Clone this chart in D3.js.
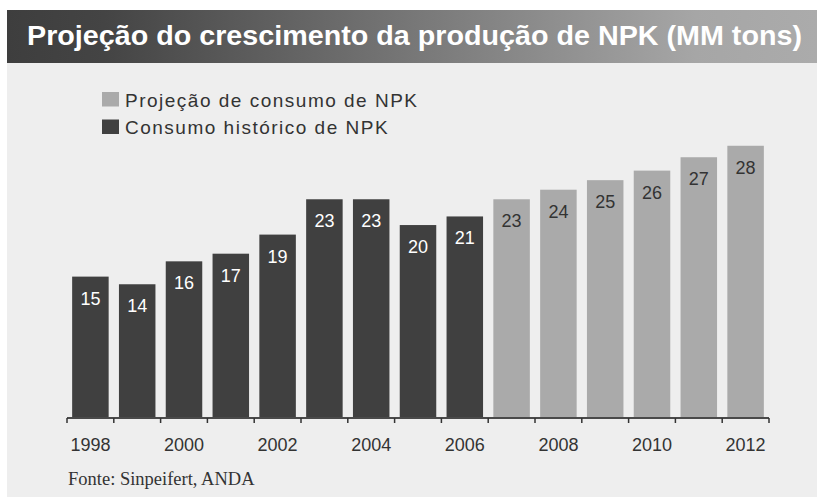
<html>
<head>
<meta charset="utf-8">
<script src="https://d3js.org/d3.v7.min.js"></script>
<style>
body {
    margin: 0;
    background: #ffffff;
}

.chart text {
    font-family: "Liberation Sans", Arial, sans-serif;
}

.chart .title {
    fill: #ffffff;
    font-size: 27px;
    font-weight: bold;
}

.chart .legend text {
    fill: #333333;
    font-size: 19px;
    letter-spacing: 1.5px;
}

.chart text.barlabel {
    font-size: 18px;
    text-anchor: middle;
}

.chart .axis text {
    fill: #333333;
    font-size: 18px;
}

.chart .source {
    fill: #333333;
    font-family: "Liberation Serif", "Times New Roman", serif;
    font-size: 18.5px;
}
</style>
</head>
<body>

<script type="text/javascript">

// data (labels show the rounded value)
var years = [1998, 1999, 2000, 2001, 2002, 2003, 2004, 2005, 2006, 2007, 2008, 2009, 2010, 2011, 2012];
var values = [14.7, 13.9, 16.3, 17.1, 19.1, 22.8, 22.8, 20.1, 21.0, 22.8, 23.8, 24.8, 25.8, 27.2, 28.4];
var series = ["Consumo histórico de NPK", "Consumo histórico de NPK", "Consumo histórico de NPK",
              "Consumo histórico de NPK", "Consumo histórico de NPK", "Consumo histórico de NPK",
              "Consumo histórico de NPK", "Consumo histórico de NPK", "Consumo histórico de NPK",
              "Projeção de consumo de NPK", "Projeção de consumo de NPK", "Projeção de consumo de NPK",
              "Projeção de consumo de NPK", "Projeção de consumo de NPK", "Projeção de consumo de NPK"];
var legendNames = ["Projeção de consumo de NPK", "Consumo histórico de NPK"];
var tickYears = [1998, 2000, 2002, 2004, 2006, 2008, 2010, 2012];
var title = "Projeção do crescimento da produção de NPK (MM tons)";
var source = "Fonte: Sinpeifert, ANDA";

var width = 817;
var height = 497;

var color = d3.scaleOrdinal()
    .domain(legendNames)
    .range(["#aaaaaa", "#404040"]);
var labelColor = d3.scaleOrdinal()
    .domain(legendNames)
    .range(["#333333", "#ffffff"]);

var svg = d3.select("body").append("svg")
    .attr("width", width)
    .attr("height", height)
    .attr("class", "chart");

// background panel
svg.append("rect")
    .attr("x", 7).attr("y", 10)
    .attr("width", width - 7).attr("height", 487)
    .attr("fill", "#eeeeee");

// title bar with grey gradient
var grad = svg.append("defs").append("linearGradient")
    .attr("id", "titlegrad")
    .attr("x1", "0%").attr("x2", "100%");
grad.append("stop").attr("offset", "0%").attr("stop-color", "#3e3e3e");
grad.append("stop").attr("offset", "12%").attr("stop-color", "#444444");
grad.append("stop").attr("offset", "85%").attr("stop-color", "#a6a6a6");
grad.append("stop").attr("offset", "100%").attr("stop-color", "#ababab");

svg.append("rect")
    .attr("x", 7).attr("y", 10)
    .attr("width", width - 7).attr("height", 53)
    .attr("fill", "url(#titlegrad)");

svg.append("text")
    .attr("class", "title")
    .attr("x", 27)
    .attr("y", 45)
    .attr("textLength", 775)
    .attr("lengthAdjust", "spacingAndGlyphs")
    .text(title);

// legend
var legend = svg.append("g")
    .attr("class", "legend")
    .selectAll("g")
    .data(legendNames)
  .enter().append("g")
    .attr("transform", function(d, i) { return "translate(102," + (92 + i * 27.5) + ")"; });

legend.append("rect")
    .attr("width", 17)
    .attr("height", 14.5)
    .attr("fill", function(d) { return color(d); });

legend.append("text")
    .attr("x", 23)
    .attr("y", 14.5)
    .text(function(d) { return d; });

// scales
var x = d3.scaleBand()
    .domain(years)
    .range([67, 769])
    .paddingInner(0.22)
    .paddingOuter(0.11);

var y = d3.scaleLinear()
    .domain([0, 30])
    .range([417, 130.5]);

// bars
var bar = svg.append("g")
    .selectAll("g")
    .data(years)
  .enter().append("g")
    .attr("transform", function(d) { return "translate(" + x(d) + ",0)"; });

bar.append("rect")
    .attr("y", function(d, i) { return y(values[i]); })
    .attr("width", x.bandwidth())
    .attr("height", function(d, i) { return y(0) - y(values[i]); })
    .attr("fill", function(d, i) { return color(series[i]); });

bar.append("text")
    .attr("class", "barlabel")
    .attr("x", x.bandwidth() / 2)
    .attr("y", function(d, i) { return y(values[i]) + 28; })
    .attr("fill", function(d, i) { return labelColor(series[i]); })
    .text(function(d, i) { return d3.format(".0f")(values[i]); });

// x axis: labels under every other year
var axis = svg.append("g")
    .attr("class", "x axis")
    .attr("transform", "translate(0," + y(0) + ")")
    .call(
        d3.axisBottom(x)
            .tickValues(tickYears)
            .tickSize(0)
            .tickPadding(21)
    );
axis.select(".domain").remove();

axis.append("line")
    .attr("x1", x.range()[0])
    .attr("x2", x.range()[1])
    .attr("y1", 1)
    .attr("y2", 1)
    .attr("stroke", "#4a4a4a")
    .attr("stroke-width", 2);

// small ticks on the band edges
var edges = years.map(function(d) { return x(d) - x.step() * x.paddingOuter(); });
edges.push(x.range()[1]);

axis.selectAll("line.edge")
    .data(edges)
  .enter().append("line")
    .attr("class", "edge")
    .attr("x1", function(d) { return d; })
    .attr("x2", function(d) { return d; })
    .attr("y1", 1)
    .attr("y2", 6)
    .attr("stroke", "#333333")
    .attr("stroke-width", 1.5);

// source note
svg.append("text")
    .attr("class", "source")
    .attr("x", 68)
    .attr("y", 485)
    .text(source);

</script>

</body>
</html>
